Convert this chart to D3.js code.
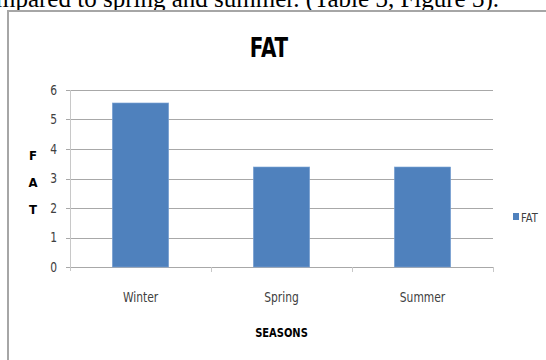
<!DOCTYPE html>
<html>
<head>
<meta charset="utf-8">
<script src="https://cdn.jsdelivr.net/npm/d3@7"></script>
<style>
  body { margin: 0; background: #fff; }
  svg { display: block; }
  .cond { font-family: 'DejaVu Sans', sans-serif; font-stretch: condensed; }
</style>
</head>
<body>
<div id="chart"></div>
<script>
// data
let seasons = ["Winter", "Spring", "Summer"]
let fatValues = [5.56, 3.39, 3.39]
let yTicks = [0, 1, 2, 3, 4, 5, 6]

let W = 546, H = 360
let margin = {top: 90, right: 53, bottom: 93, left: 70}
let innerW = W - margin.left - margin.right
let innerH = H - margin.top - margin.bottom

let svg = d3.select("#chart").append("svg")
    .attr("width", W)
    .attr("height", H)

// text of the page above the figure, cut off at the top
svg.append("text")
    .attr("x", -4)
    .attr("y", 7)
    .attr("font-family", "'Liberation Serif', serif")
    .attr("font-size", 25)
    .text("mpared to spring and summer. (Table 3, Figure 3).")

// chart frame
svg.append("rect")
    .attr("x", 8)
    .attr("y", 11)
    .attr("width", W)
    .attr("height", H)
    .attr("fill", "white")
    .attr("stroke", "#a6a6a6")
    .attr("stroke-width", 2)

let g = svg.append("g")
    .attr("transform", "translate(" + margin.left + "," + margin.top + ")")

let x = d3.scaleBand().domain(seasons).range([0, innerW]).paddingInner(0.6).paddingOuter(0.3)
let xEdge = d3.scaleBand().domain(seasons).range([0, innerW])
let y = d3.scaleLinear().domain([0, 6]).range([innerH, 0])

// gridlines
g.selectAll(".grid").data(yTicks)
    .enter().append("line")
    .attr("x1", -4)
    .attr("x2", innerW)
    .attr("y1", d => Math.round(y(d)) + 0.5)
    .attr("y2", d => Math.round(y(d)) + 0.5)
    .attr("stroke", "#a8a8a8")
    .attr("stroke-width", 1)

// y axis line
g.append("line")
    .attr("x1", 0.5).attr("x2", 0.5)
    .attr("y1", 0).attr("y2", innerH + 4)
    .attr("stroke", "#c8c8c8")

// x ticks at category edges
g.selectAll(".xtick").data(seasons)
    .enter().append("line")
    .attr("x1", d => Math.round(xEdge(d) + xEdge.bandwidth()) + 0.5)
    .attr("x2", d => Math.round(xEdge(d) + xEdge.bandwidth()) + 0.5)
    .attr("y1", innerH)
    .attr("y2", innerH + 5)
    .attr("stroke", "#c8c8c8")

// y tick labels
g.selectAll(".ylab").data(yTicks)
    .enter().append("text")
    .attr("class", "cond")
    .attr("transform", d => "translate(-13," + y(d) + ") scale(0.85,1)")
    .attr("dy", "0.35em")
    .attr("text-anchor", "end")
    .attr("font-size", 14)
    .attr("fill", "#404040")
    .text(d => d)

// bars
g.selectAll(".bar").data(fatValues)
    .enter().append("rect")
    .attr("x", (d, i) => x(seasons[i]))
    .attr("y", d => y(d))
    .attr("width", x.bandwidth())
    .attr("height", d => innerH - y(d))
    .attr("fill", "#4f81bd")
    .attr("stroke", "#7fa6d6")
    .attr("stroke-width", 0.6)

// x labels
g.selectAll(".xlab").data(seasons)
    .enter().append("text")
    .attr("class", "cond")
    .attr("transform", d => "translate(" + (xEdge(d) + xEdge.bandwidth() / 2) + "," + (innerH + 35) + ") scale(0.85,1)")
    .attr("text-anchor", "middle")
    .attr("font-size", 14)
    .attr("fill", "#404040")
    .text(d => d)

// title, squeezed to look like a narrow face
svg.append("text")
    .attr("class", "cond")
    .attr("transform", "translate(269,57) scale(0.82,1)")
    .attr("text-anchor", "middle")
    .attr("font-size", 27)
    .attr("font-weight", "bold")
    .text("FAT")

// x axis title
svg.append("text")
    .attr("class", "cond")
    .attr("transform", "translate(" + (margin.left + innerW / 2) + ",337) scale(0.85,1)")
    .attr("text-anchor", "middle")
    .attr("font-size", 13)
    .attr("font-weight", "bold")
    .text("SEASONS")

// y axis title, stacked letters
svg.selectAll(".ytitle").data(["F", "A", "T"])
    .enter().append("text")
    .attr("class", "cond")
    .attr("x", 33)
    .attr("y", (d, i) => 160 + i * 27)
    .attr("text-anchor", "middle")
    .attr("font-size", 13)
    .attr("font-weight", "bold")
    .text(d => d)

// legend
svg.append("rect")
    .attr("x", 513)
    .attr("y", 213)
    .attr("width", 6)
    .attr("height", 7)
    .attr("fill", "#4f81bd")
svg.append("text")
    .attr("class", "cond")
    .attr("transform", "translate(521,217) scale(0.85,1)")
    .attr("dy", "0.35em")
    .attr("font-size", 13)
    .attr("fill", "#404040")
    .text("FAT")
</script>
</body>
</html>
